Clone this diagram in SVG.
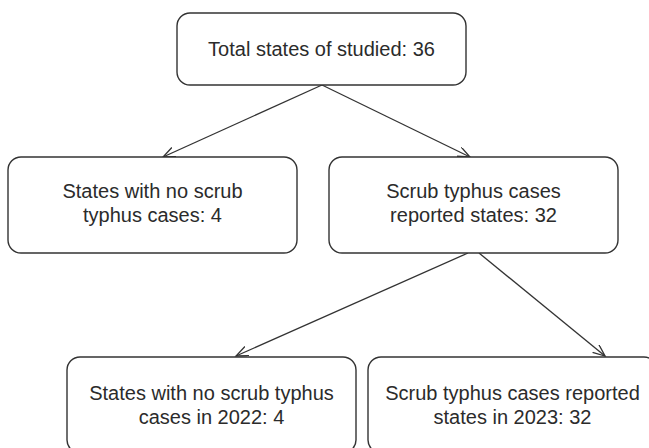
<svg xmlns="http://www.w3.org/2000/svg" width="649" height="448" viewBox="0 0 649 448">
<defs>
<style>
.box{fill:#fff;stroke:#333;stroke-width:1.4}
.t{font-family:"Liberation Sans",Arial,sans-serif;font-size:20px;fill:#2b2b2b;text-anchor:middle}
.c{fill:none;stroke:#333;stroke-width:1.3}
</style>
<marker id="ah" markerWidth="14" markerHeight="12" refX="12" refY="5" orient="auto" markerUnits="userSpaceOnUse">
<path d="M0,0 L12,5 L0,10" fill="none" stroke="#333" stroke-width="1.3"/>
</marker>
</defs>
<rect width="649" height="448" fill="#fff"/>
<g id="connectors">
<line class="c" x1="322" y1="85" x2="163" y2="157" marker-end="url(#ah)"/>
<line class="c" x1="322" y1="85" x2="470" y2="157" marker-end="url(#ah)"/>
<line class="c" x1="468" y1="253" x2="236" y2="356" marker-end="url(#ah)"/>
<line class="c" x1="479" y1="253" x2="605" y2="356" marker-end="url(#ah)"/>
</g>
<g id="n_total">
<rect class="box" x="177" y="13" width="289" height="72" rx="13"/>
<text class="t" x="321.5" y="56">Total states of studied: 36</text>
</g>
<g id="n_noscrub">
<rect class="box" x="8" y="157" width="289" height="96" rx="13"/>
<text class="t" x="152.5" y="198">States with no scrub</text>
<text class="t" x="152.5" y="222">typhus cases: 4</text>
</g>
<g id="n_reported">
<rect class="box" x="329" y="157" width="289" height="96" rx="13"/>
<text class="t" x="473.5" y="198">Scrub typhus cases</text>
<text class="t" x="473.5" y="222">reported states: 32</text>
</g>
<g id="n_no2022">
<rect class="box" x="67" y="357" width="289" height="96" rx="13"/>
<text class="t" x="211.5" y="400">States with no scrub typhus</text>
<text class="t" x="211.5" y="424">cases in 2022: 4</text>
</g>
<g id="n_rep2023">
<rect class="box" x="368" y="357" width="289" height="96" rx="13"/>
<text class="t" x="512.5" y="400">Scrub typhus cases reported</text>
<text class="t" x="512.5" y="424">states in 2023: 32</text>
</g>
</svg>
